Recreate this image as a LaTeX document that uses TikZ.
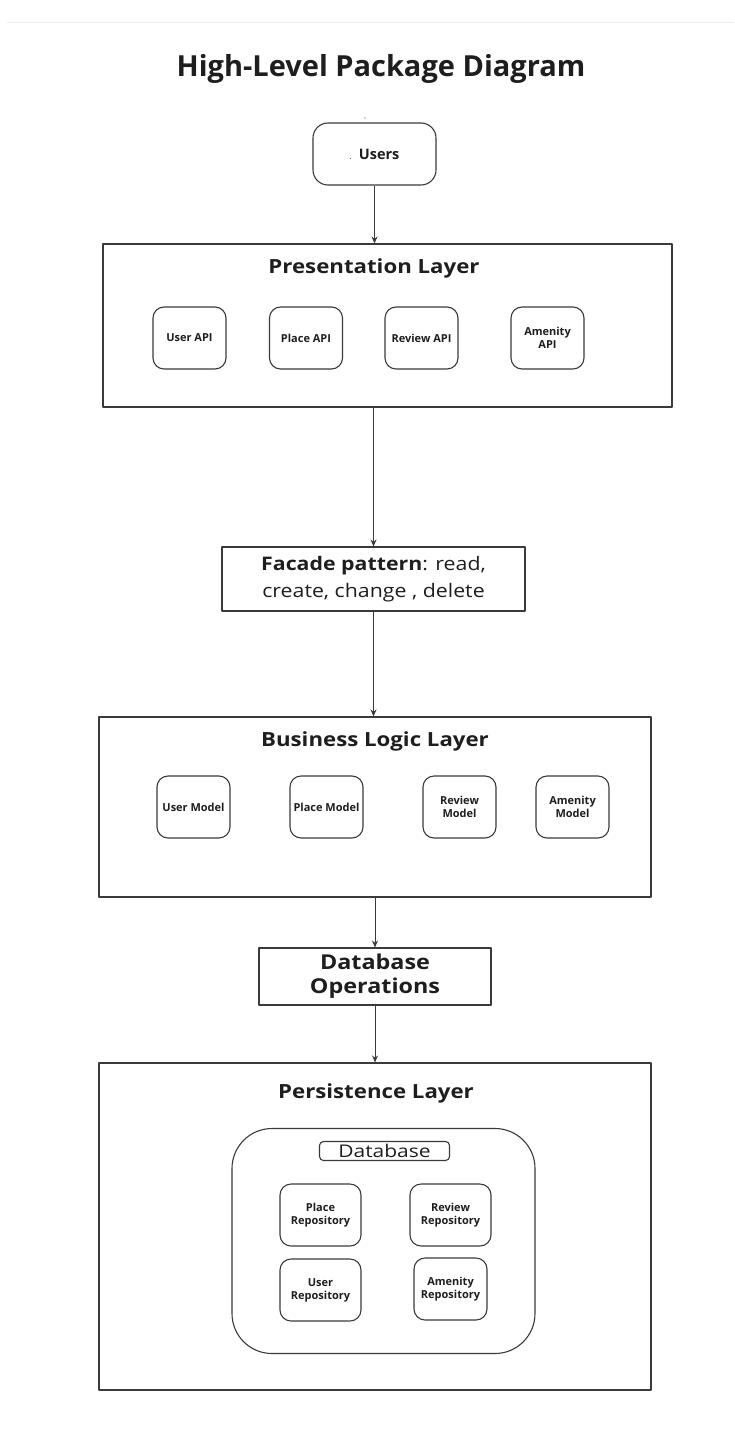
\documentclass[tikz,border=0pt]{standalone}
\usepackage{fontspec}
\setmainfont{Open Sans}
\newfontfamily\widesans[FakeStretch=1.14]{Open Sans}
\newfontfamily\labelsans[FakeStretch=1.2]{Open Sans}
\usetikzlibrary{arrows.meta,positioning}
\definecolor{ln}{RGB}{58,58,58}
\definecolor{txt}{RGB}{30,30,30}
\definecolor{rule}{RGB}{236,236,236}
\newcommand{\fsz}[2][1.25]{\fontsize{#2}{#1\dimexpr#2pt\relax}\selectfont}
\tikzset{
  every picture/.style={ln, line width=1.1pt, line join=round,
    >={Stealth[length=7pt,width=6pt]}},
  every node/.style={txt},
  % Schichten
  layer/.style={draw=ln, inner sep=0pt},
  layertitle/.style={font=\widesans\bfseries\fsz{19.5}},
  % Pakete in den Schichten
  pkg/.style={draw=ln, rounded corners=11pt, inner sep=0pt, align=center,
    minimum width=73pt, minimum height=62pt, font={\bfseries\fsz[1.2]{11}}},
  % Zwischenstufen
  note/.style={draw=ln, inner sep=0pt, align=center},
  flow/.style={->, ln, line width=1pt},
}

\begin{document}
\begin{tikzpicture}[x=1pt, y=-1pt]
  \useasboundingbox (0,0) rectangle (734,1434);
  \draw[rule, line width=1pt] (7,23) -- (734,23);
  \node[font=\bfseries\fsz{29}] (title) at (381,69) {High-Level Package Diagram};
  \fill[ln] (365,118) circle (0.6);
  % Benutzer
  \node[draw=ln, rounded corners=15pt, minimum width=123pt, minimum height=62pt,
    inner sep=0pt, font=\bfseries\fsz{14.5}] (users) at (374.5,154)
    {{\fsz{6}.}\ \ Users};
  % Presentation Layer
  \node[layer, minimum width=569pt, minimum height=163pt] (pres) at (387.5,325.5) {};
  \node[layertitle] (presT) at (374,268) {Presentation Layer};
  \node[pkg] (userapi) at (189.5,338) {User API};
  \node[pkg] (placeapi) at (306,338) {Place API};
  \node[pkg] (reviewapi) at (421.5,338) {Review API};
  \node[pkg] (amenityapi) at (547.5,338) {Amenity\\API};
  % Facade
  \node[note, minimum width=303pt, minimum height=64pt, font={\widesans\fsz[1.42]{18.7}}]
    (facade) at (373.5,579) {\textbf{Facade pattern}: read,\\create, change , delete};
  % Business Logic Layer
  \node[layer, minimum width=552pt, minimum height=180pt] (biz) at (375,807) {};
  \node[layertitle] (bizT) at (375,741) {Business Logic Layer};
  \node[pkg] (usermodel) at (193.5,807) {User Model};
  \node[pkg] (placemodel) at (326.5,807) {Place Model};
  \node[pkg] (reviewmodel) at (459.5,807) {Review\\Model};
  \node[pkg] (amenitymodel) at (572.5,807) {Amenity\\Model};
  % Datenbankzugriff
  \node[note, minimum width=232pt, minimum height=57pt,
    font={\widesans\bfseries\fsz[1.17]{20.5}}] (dbops) at (375,976.5)
    {Database\\Operations};
  % Persistence Layer
  \node[layer, minimum width=552pt, minimum height=327pt] (persist) at (375,1226.5) {};
  \node[layertitle] (persistT) at (376,1093) {Persistence Layer};
  \node[draw=ln, rounded corners=40pt, minimum width=303pt, minimum height=225pt,
    inner sep=0pt] (db) at (383.5,1241) {};
  \node[draw=ln, rounded corners=4pt, minimum width=130pt, minimum height=19pt,
    inner sep=0pt, font=\labelsans\fsz{17.5}] (dbT) at (384.5,1151) {Database};
  \node[pkg, minimum width=81pt] (placerepo) at (320.5,1215) {Place\\Repository};
  \node[pkg, minimum width=81pt] (reviewrepo) at (450.5,1215) {Review\\Repository};
  \node[pkg, minimum width=81pt] (userrepo) at (320.5,1290) {User\\Repository};
  \node[pkg] (amenityrepo) at (450.5,1289) {Amenity\\Repository};
  % Verbindungen
  \draw[flow] (users.south) -- (users.south |- pres.north);
  \draw[flow] (facade.north |- pres.south) -- (facade.north);
  \draw[flow] (facade.south) -- (facade.south |- biz.north);
  \draw[flow] (biz.south) -- (dbops.north);
  \draw[flow] (dbops.south) -- (dbops.south |- persist.north);
\end{tikzpicture}
\end{document}
